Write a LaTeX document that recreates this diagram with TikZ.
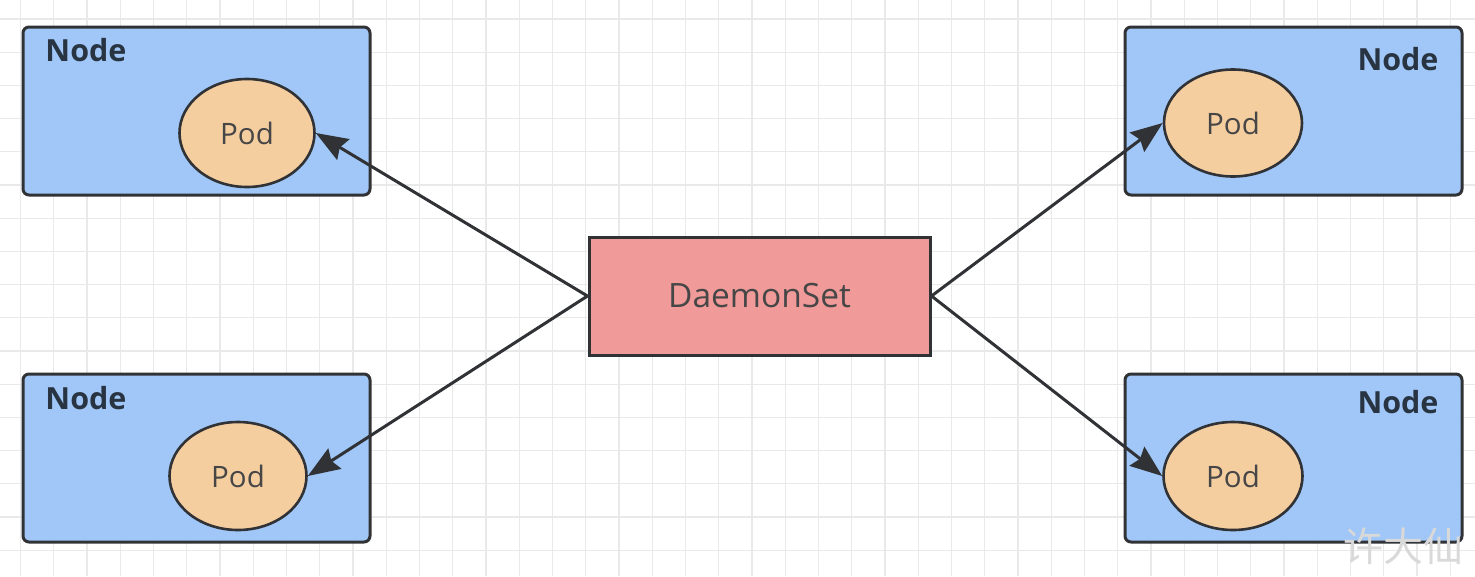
\documentclass[tikz,border=0pt]{standalone}
\usepackage{fontspec}
\setmainfont{Open Sans}
\newfontfamily\cjkfont{Noto Sans CJK SC}
\usetikzlibrary{arrows.meta,shapes.geometric}
\definecolor{gridc}{RGB}{233,233,233}
\definecolor{nodefill}{RGB}{160,199,247}
\definecolor{podfill}{RGB}{245,206,160}
\definecolor{dsfill}{RGB}{240,155,153}
\definecolor{edge}{RGB}{48,50,54}
\definecolor{txt}{RGB}{70,70,70}
\definecolor{nodetxt}{RGB}{40,52,66}
\tikzset{
  hostbox/.style={draw=edge, line width=3pt, fill=nodefill, rounded corners=6pt, inner sep=0pt},
  podshape/.style={ellipse, draw=edge, line width=2.6pt, fill=podfill, inner sep=0pt, text=txt, font=\fontsize{29.5}{34}\selectfont},
  dsbox/.style={draw=edge, line width=3pt, fill=dsfill, inner sep=0pt, text=txt, font=\fontsize{33.5}{38}\selectfont},
  hostlabel/.style={text=nodetxt, font=\bfseries\fontsize{30.5}{35}\selectfont, inner sep=0pt},
  conn/.style={draw=edge, line width=3pt, -{Stealth[length=32pt,width=24pt,inset=4pt]}}
}
\begin{document}
\begin{tikzpicture}[x=1pt,y=-1pt]
\useasboundingbox (0,0) rectangle (1475,576);
\fill[white] (0,0) rectangle (1475,576);
% grid
\foreach \i in {0,...,44} {
  \draw[gridc, line width=1.3pt] ({20.5+33.25*\i},0) -- ({20.5+33.25*\i},576);
}
\foreach \j in {0,...,17} {
  \draw[gridc, line width=1.3pt] (0,{19+33.2*\j}) -- (1475,{19+33.2*\j});
}
% host boxes
\node[hostbox, minimum width=347pt, minimum height=168pt] (h1) at (196.5,111) {};
\node[hostbox, minimum width=347pt, minimum height=168pt] (h2) at (196.5,458) {};
\node[hostbox, minimum width=337pt, minimum height=168pt] (h3) at (1293.5,111) {};
\node[hostbox, minimum width=337pt, minimum height=168pt] (h4) at (1293.5,458) {};
\node[hostlabel] (l1) at (86,50) {Node};
\node[hostlabel] (l2) at (86,398) {Node};
\node[hostlabel] (l3) at (1398,59) {Node};
\node[hostlabel] (l4) at (1398,402) {Node};
% pods
\node[podshape, minimum width=135pt, minimum height=108pt] (p1) at (247,133) {Pod};
\node[podshape, minimum width=137pt, minimum height=108pt] (p2) at (238,476) {Pod};
\node[podshape, minimum width=138pt, minimum height=107pt] (p3) at (1233,123) {Pod};
\node[podshape, minimum width=139pt, minimum height=108pt] (p4) at (1233,476) {Pod};
% daemonset
\node[dsbox, minimum width=341pt, minimum height=118pt] (ds) at (759.5,296) {DaemonSet};
% connectors
\draw[conn] (ds.west) -- (p1.east);
\draw[conn] (ds.west) -- (p2.east);
\draw[conn] (ds.east) -- (p3.west);
\draw[conn] (ds.east) -- (p4.west);
% watermark
\node[text=gray!30, font=\cjkfont\fontsize{40}{44}\selectfont, inner sep=0pt] (wm) at (1403,546) {许大仙};
\end{tikzpicture}
\end{document}
